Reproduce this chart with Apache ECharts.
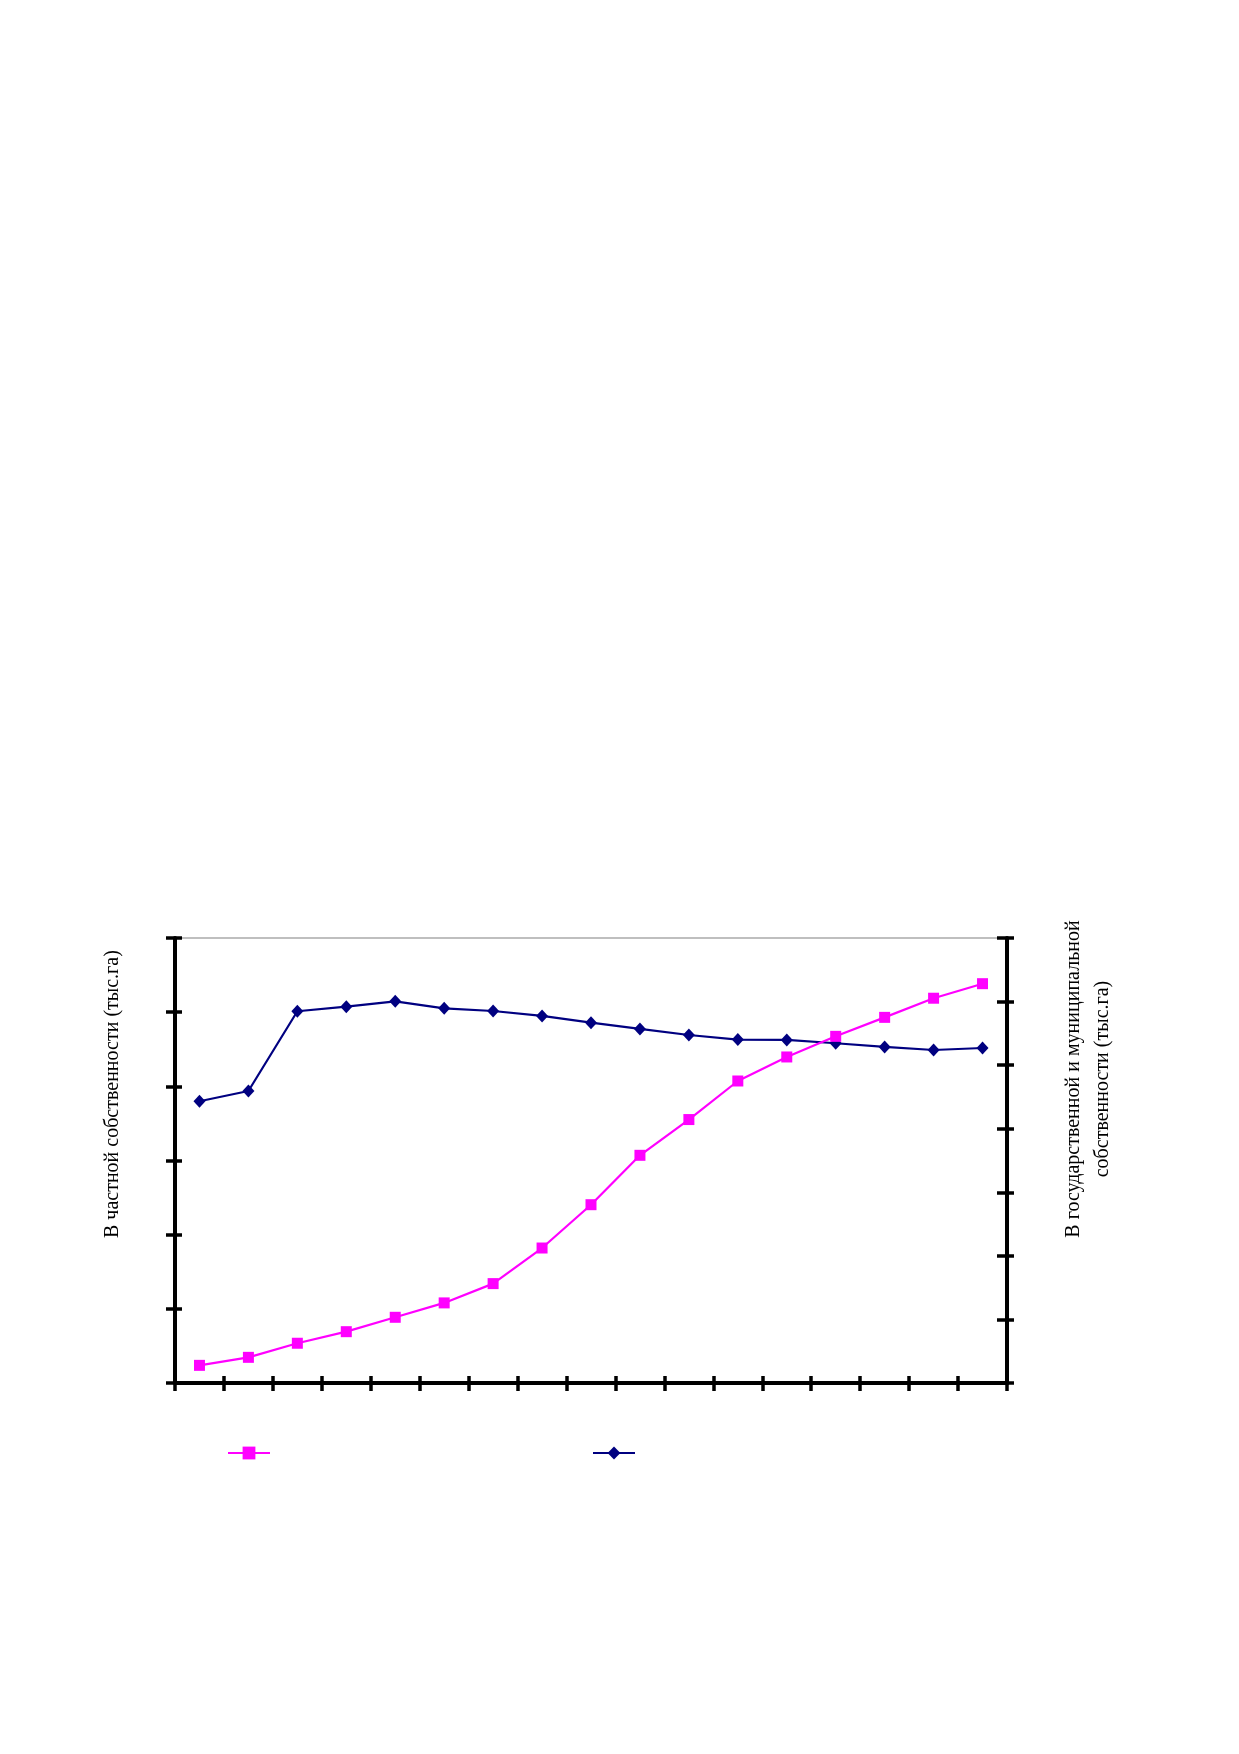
<!DOCTYPE html>
<html>
<head>
<meta charset="utf-8">
<script src="https://cdn.jsdelivr.net/npm/echarts@6/dist/echarts.min.js"></script>
<style>
html,body{margin:0;padding:0;background:#fff;}
#chart{width:1239px;height:1754px;}
</style>
</head>
<body>
<div id="chart"></div>
<script>
const categories = ['1','2','3','4','5','6','7','8','9','10','11','12','13','14','15','16','17'];
const privateLand = [11.9, 17.3, 26.8, 34.6, 44.3, 54.0, 67.0, 91.0, 120.2, 153.5, 177.6, 203.6, 219.8, 233.7, 246.5, 259.4, 269.2];
const stateLand = [2216, 2297, 2924, 2960, 3002, 2947, 2926, 2887, 2834, 2785, 2737, 2701, 2698, 2672, 2643, 2619, 2635];
const seriesNames = ['частная', 'государственная и муниципальная'];
const leftTitle = 'В частной собственности (тыс.га)';
const rightTitle = 'В государственной и муниципальной\nсобственности (тыс.га)';

const chart = echarts.init(document.getElementById('chart'), null, {renderer:'canvas'});
const axisColor = '#000';

const baseY = (pos, max, interval, inside, len, showLine) => ({
  type:'value', position:pos, min:0, max:max, interval:interval,
  axisLine:{show:showLine, lineStyle:{color:axisColor, width:4}},
  axisTick:{show:true, inside:inside, length:len, lineStyle:{color:axisColor, width:3.5}},
  axisLabel:{show:false}, splitLine:{show:false}
});

chart.setOption({
  backgroundColor:'#fff',
  animation:false,
  grid:{left:175, right:232, top:938, height:445, show:true, borderColor:'#aaaaaa', borderWidth:1.5, containLabel:false},
  legend:[
    {data:[seriesNames[0]], left:227, top:1445, padding:0, itemWidth:42, itemHeight:16, formatter:()=>'', selectedMode:false},
    {data:[seriesNames[1]], left:592, top:1445, padding:0, itemWidth:42, itemHeight:16, formatter:()=>'', selectedMode:false}
  ],
  xAxis:[
    {type:'category', data:categories, boundaryGap:true, position:'bottom',
     axisLine:{show:true, onZero:false, lineStyle:{color:axisColor, width:4}},
     axisTick:{show:true, inside:false, length:8, interval:0, lineStyle:{color:axisColor, width:3.5}},
     axisLabel:{show:false}, splitLine:{show:false}},
    {type:'category', data:categories, boundaryGap:true, position:'bottom',
     axisLine:{show:false, onZero:false},
     axisTick:{show:true, inside:true, length:7, interval:0, lineStyle:{color:axisColor, width:3.5}},
     axisLabel:{show:false}, splitLine:{show:false}}
  ],
  yAxis:[
    baseY('left', 300, 50, false, 9, true),
    baseY('right', 3500, 500, false, 7, true),
    baseY('left', 300, 50, true, 7, false),
    baseY('right', 3500, 500, true, 10, false)
  ],
  graphic:[
    {type:'text', x:113, y:1238, rotation:Math.PI/2,
     style:{text:leftTitle, font:'20px "Liberation Serif"', fill:'#000', align:'left', verticalAlign:'middle'}},
    {type:'text', x:1088, y:1079, rotation:Math.PI/2,
     style:{text:rightTitle, font:'20px "Liberation Serif"', fill:'#000', align:'center', verticalAlign:'middle', lineHeight:29}}
  ],
  series:[
    {name:seriesNames[0], type:'line', data:privateLand, xAxisIndex:0, yAxisIndex:0,
     symbol:'rect', symbolSize:11, itemStyle:{color:'#FF00FF'}, lineStyle:{color:'#FF00FF', width:2.2}, z:3},
    {name:seriesNames[1], type:'line', data:stateLand, xAxisIndex:0, yAxisIndex:1,
     symbol:'diamond', symbolSize:[12,13], itemStyle:{color:'#000080'}, lineStyle:{color:'#000080', width:2.2}, z:2}
  ]
});
</script>
</body>
</html>
